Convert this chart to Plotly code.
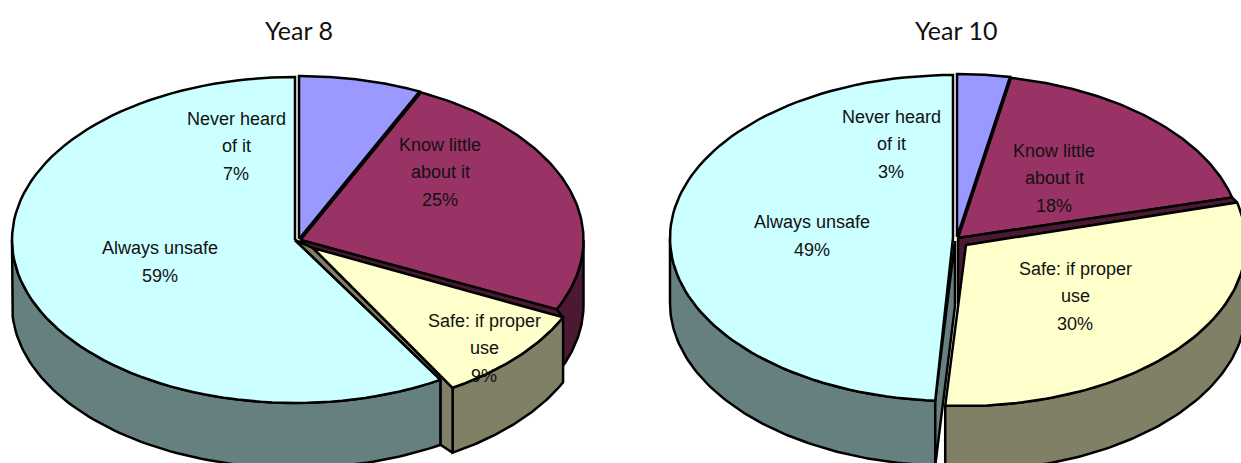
import numpy as np
import plotly.graph_objects as go

categories = ["Never heard of it", "Know little about it", "Safe: if proper use", "Always unsafe"]
year8_values = [7, 25, 9.4, 58.6]
year10_values = [3, 18, 30, 49]
year8_labels = ["Never heard<br>of it<br>7%", "Know little<br>about it<br>25%",
                "Safe: if proper<br>use<br>9%", "Always unsafe<br>59%"]
year10_labels = ["Never heard<br>of it<br>3%", "Know little<br>about it<br>18%",
                 "Safe: if proper<br>use<br>30%", "Always unsafe<br>49%"]
titles = ["Year 8", "Year 10"]

TOP = ["#9999ff", "#993366", "#ffffcc", "#ccffff"]
SIDE = ["#4c4c80", "#4c1933", "#808066", "#668080"]
RX, RY, DEPTH = 283, 163, 65
W, H = 1241, 463
LINE_GAP = 27.5

fig = go.Figure()


def pt(c, deg, depth=0):
    t = np.radians(deg)
    return c[0] + RX * np.sin(t), c[1] - RY * np.cos(t) + depth


def arc(c, a, b, depth=0):
    t = np.linspace(a, b, 90)
    return [pt(c, d, depth) for d in t]


def poly(points, color, name):
    xs = [p[0] for p in points] + [points[0][0]]
    ys = [p[1] for p in points] + [points[0][1]]
    fig.add_trace(go.Scatter(x=xs, y=ys, mode="lines", fill="toself", fillcolor=color,
                             line=dict(color="black", width=2.5, shape="linear"),
                             name=name, hoverinfo="name", showlegend=False))


def top(c, a, b, i):
    poly([c] + arc(c, a, b), TOP[i], categories[i])


def wall(c, a, b, i):
    poly(arc(c, a, b) + arc(c, b, a, DEPTH), SIDE[i], categories[i])


def angles(values):
    e = np.cumsum(values) / np.sum(values) * 360
    return [0, *e]


# ---- Year 8 ----
A = angles(year8_values)
c_blue, c_mar, c_yel, c_cy = (299, 239), (300.5, 240), (307, 248), (295, 240)
wall(c_cy, A[3], 270, 3)
top(c_cy, A[3], 360, 3)
wall(c_mar, 90, A[2], 1)
top(c_blue, A[0], A[1], 0)
top(c_mar, A[1], A[2], 1)
poly([c_mar, pt(c_mar, A[2]), pt(c_yel, A[2]), c_yel], SIDE[1], categories[1])
wall(c_yel, A[2], A[3], 2)
poly([c_cy, pt(c_cy, A[3]), pt(c_cy, A[3], DEPTH), pt(c_yel, A[3], DEPTH), pt(c_yel, A[3]),
      (c_yel[0] + 6, c_yel[1])], SIDE[2], categories[2])
poly([(c_yel[0] + 6, c_yel[1])] + arc(c_yel, A[2], A[3]), TOP[2], categories[2])

# ---- Year 10 ----
A = angles(year10_values)
c_blue, c_mar, c_yel, c_cy = (957, 237), (958, 238), (963, 243), (953, 238)
c_cy_top = (c_cy[0] + 2, c_cy[1] + 3)
wall(c_cy, A[3], 270, 3)
poly([c_cy_top, (c_cy_top[0], c_cy_top[1] + DEPTH), pt(c_cy, A[3], DEPTH), pt(c_cy, A[3])],
     SIDE[3], categories[3])
top(c_cy, A[3], 360, 3)
top(c_blue, A[0], A[1], 0)
top(c_mar, A[1], A[2], 1)
poly([c_mar, pt(c_mar, A[2]), pt(c_yel, A[2]), (c_yel[0] + 3, c_yel[1] + 2),
      (c_yel[0] - 3, c_yel[1] + 62), (c_mar[0], c_mar[1] + DEPTH)], SIDE[1], categories[1])
wall(c_yel, 90, A[3], 2)
poly([(c_yel[0] + 3, c_yel[1] + 2)] + arc(c_yel, A[2], A[3]), TOP[2], categories[2])

# ---- Text ----
anns = []
for x, t in zip([299, 956], titles):
    anns.append(dict(x=x, y=30, text=t, font=dict(family="Lato", size=25, color="#111111")))
pos8 = [(236, 146), (440, 172), (484, 348), (160, 262)]
pos10 = [(891, 144), (1054, 178), (1075, 296), (812, 236)]
for (x, y), t in list(zip(pos8, year8_labels)) + list(zip(pos10, year10_labels)):
    lines = t.split("<br>")
    for j, line in enumerate(lines):
        anns.append(dict(x=x, y=y + (j - (len(lines) - 1) / 2) * LINE_GAP, text=line,
                         font=dict(family="Liberation Sans", size=18, color="#111111")))
for a in anns:
    a.update(xref="x", yref="y", showarrow=False, xanchor="center", yanchor="middle", align="center")

fig.update_layout(
    width=W, height=H, margin=dict(l=0, r=0, t=0, b=0),
    paper_bgcolor="white", plot_bgcolor="white", showlegend=False, annotations=anns,
    xaxis=dict(range=[0, W], visible=False, fixedrange=True),
    yaxis=dict(range=[H, 0], visible=False, fixedrange=True),
)
fig.write_html("out.html", config={"displayModeBar": False},
               default_width=W, default_height=H,
               post_script="document.body.style.margin='0';")
